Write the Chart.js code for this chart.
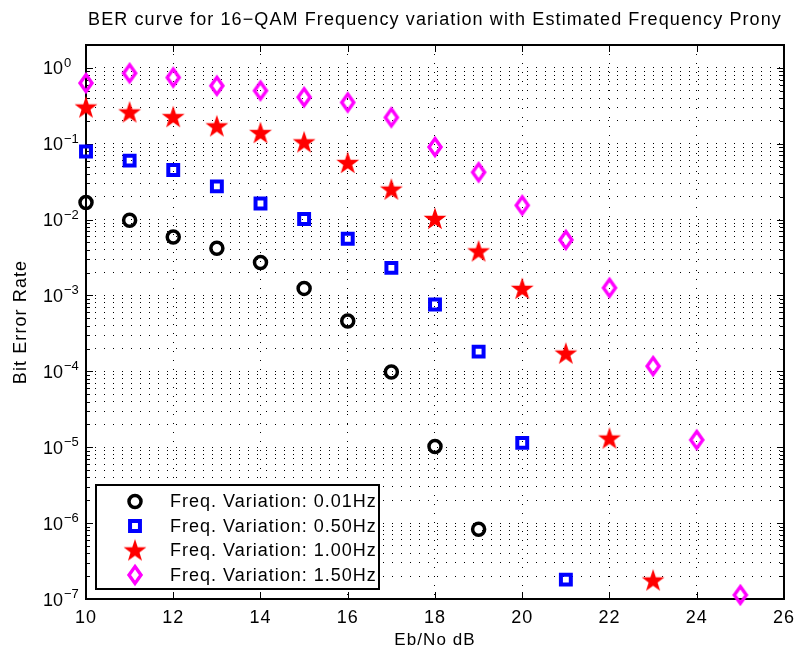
<!DOCTYPE html>
<html>
<head>
<meta charset="utf-8">
<title>BER 16-QAM Prony</title>
<script src="https://cdn.jsdelivr.net/npm/chart.js@4/dist/chart.umd.min.js"></script>
<style>
  html, body { margin: 0; padding: 0; background: #fff; }
  #wrap { width: 802px; height: 651px; }
</style>
</head>
<body>
<div id="wrap"><canvas id="grafico" width="802" height="651"></canvas></div>
<script>
    // Eb/No (dB) and measured BER for each frequency variation
    const ebNo = [10, 11, 12, 13, 14, 15, 16, 17, 18, 19, 20, 21, 22, 23, 24, 25];
    const ber001 = [0.0168, 0.0098, 0.0059, 0.0042, 0.00272, 0.00124, 0.00046, 9.8e-5, 1.02e-5, 8.3e-7];
    const ber050 = [0.079, 0.0598, 0.045, 0.0274, 0.0163, 0.0102, 0.0056, 0.00231, 0.00076, 0.000182, 1.14e-5, 1.8e-7];
    const ber100 = [0.30, 0.258, 0.224, 0.169, 0.138, 0.104, 0.0557, 0.0248, 0.0102, 0.0038, 0.00122, 0.000171, 1.3e-5, 1.75e-7];
    const ber150 = [0.63, 0.85, 0.745, 0.58, 0.50, 0.41, 0.35, 0.222, 0.0904, 0.042, 0.0154, 0.0054, 0.00126, 0.000117, 1.25e-5, 1.13e-7];

    const nombres = ['Freq. Variation: 0.01Hz', 'Freq. Variation: 0.50Hz', 'Freq. Variation: 1.00Hz', 'Freq. Variation: 1.50Hz'];
    const xTicks = [10, 12, 14, 16, 18, 20, 22, 24, 26];
    const yPotencias = [-7, -6, -5, -4, -3, -2, -1, 0];

    const FUENTE = '"Liberation Sans", Arial, Helvetica, sans-serif';

    function puntos(ber) {
      return ber.map((v, i) => ({ x: ebNo[i], y: v }));
    }

    // filled 5-point star
    function crearEstrella(color) {
      const c = document.createElement('canvas');
      c.width = 26; c.height = 26;
      const g = c.getContext('2d');
      g.fillStyle = color;
      g.beginPath();
      for (let i = 0; i < 10; i++) {
        const r = i % 2 === 0 ? 12 : 4.7;
        const a = -Math.PI / 2 + i * Math.PI / 5;
        const px = 13 + r * Math.cos(a), py = 13.5 + r * Math.sin(a);
        if (i === 0) g.moveTo(px, py); else g.lineTo(px, py);
      }
      g.closePath();
      g.fill();
      return c;
    }

    // hollow diamond, taller than wide
    function crearRombo(color) {
      const c = document.createElement('canvas');
      c.width = 20; c.height = 26;
      const g = c.getContext('2d');
      g.strokeStyle = color;
      g.lineWidth = 3.4;
      g.beginPath();
      g.moveTo(10, 13 - 8.4);
      g.lineTo(10 + 6, 13);
      g.lineTo(10, 13 + 8.4);
      g.lineTo(10 - 6, 13);
      g.closePath();
      g.stroke();
      return c;
    }

    const estrella = crearEstrella('#ff0000');
    const rombo = crearRombo('#ff00ff');

    const datasets = [
      { label: nombres[0], data: puntos(ber001), pointStyle: 'circle', pointRadius: 6, pointBorderWidth: 3.5,
        borderColor: '#000000', pointBorderColor: '#000000', pointBackgroundColor: 'rgba(0,0,0,0)' },
      { label: nombres[1], data: puntos(ber050), pointStyle: 'rect', pointRadius: 7, pointBorderWidth: 4,
        borderColor: '#0000ff', pointBorderColor: '#0000ff', pointBackgroundColor: 'rgba(0,0,0,0)' },
      { label: nombres[2], data: puntos(ber100), pointStyle: estrella, pointRadius: 12, pointBorderWidth: 0,
        borderColor: '#ff0000', pointBorderColor: '#ff0000', pointBackgroundColor: '#ff0000' },
      { label: nombres[3], data: puntos(ber150), pointStyle: rombo, pointRadius: 10, pointBorderWidth: 0,
        borderColor: '#ff00ff', pointBorderColor: '#ff00ff', pointBackgroundColor: 'rgba(0,0,0,0)' }
    ];
    datasets.forEach(d => { d.showLine = false; d.clip = false; d.pointHoverRadius = d.pointRadius; });

    function esPotencia(v) {
      const l = Math.log10(v);
      return Math.abs(l - Math.round(l)) < 1e-9;
    }

    /* ------------------ PLUGINS ------------------ */
    const espaciado = {
      id: 'espaciado',
      beforeDraw(chart) { chart.ctx.letterSpacing = '1.1px'; }
    };

    // box and inward tick marks
    const marco = {
      id: 'marco',
      beforeDatasetsDraw(chart) {
        const ctx = chart.ctx;
        const { left, right, top, bottom } = chart.chartArea;
        const sx = chart.scales.x, sy = chart.scales.y;
        ctx.save();
        ctx.strokeStyle = '#000';
        ctx.lineWidth = 1;
        ctx.beginPath();
        xTicks.forEach(v => {
          const px = Math.round(sx.getPixelForValue(v)) + 0.5;
          ctx.moveTo(px, bottom); ctx.lineTo(px, bottom - 7);
          ctx.moveTo(px, top); ctx.lineTo(px, top + 7);
        });
        sy.ticks.forEach(t => {
          const py = Math.round(sy.getPixelForValue(t.value)) + 0.5;
          const largo = esPotencia(t.value) ? 7 : 4;
          ctx.moveTo(left, py); ctx.lineTo(left + largo, py);
          ctx.moveTo(right, py); ctx.lineTo(right - largo, py);
        });
        ctx.stroke();
        ctx.lineWidth = 2;
        ctx.strokeRect(left, top, right - left, bottom - top);
        ctx.restore();
      }
    };

    // 10^n labels on the log axis
    const etiquetasY = {
      id: 'etiquetasY',
      afterDraw(chart) {
        const ctx = chart.ctx;
        const sy = chart.scales.y;
        ctx.save();
        ctx.fillStyle = '#000';
        ctx.letterSpacing = '0px';
        ctx.textBaseline = 'alphabetic';
        yPotencias.forEach(p => {
          const py = sy.getPixelForValue(Math.pow(10, p));
          ctx.font = '18px ' + FUENTE;
          ctx.textAlign = 'right';
          ctx.fillText('10', 63, py + 6.5);
          ctx.font = '13px ' + FUENTE;
          ctx.textAlign = 'left';
          ctx.fillText(p === 0 ? '0' : '\u2212' + (-p), 64, py - 1);
        });
        ctx.restore();
      }
    };

    // legend box in the lower left corner
    const leyenda = {
      id: 'leyenda',
      afterDraw(chart) {
        const ctx = chart.ctx;
        ctx.save();
        ctx.fillStyle = '#fff';
        ctx.fillRect(96, 485, 283, 104);
        ctx.strokeStyle = '#000';
        ctx.lineWidth = 2;
        ctx.strokeRect(96, 485, 283, 104);
        chart.data.datasets.forEach((d, i) => {
          const cy = 501.5 + i * 24.5;
          ctx.strokeStyle = d.pointBorderColor;
          ctx.fillStyle = d.pointBackgroundColor;
          ctx.lineWidth = d.pointBorderWidth;
          Chart.helpers.drawPoint(ctx, {
            pointStyle: d.pointStyle, radius: d.pointRadius, borderWidth: d.pointBorderWidth, rotation: 0
          }, 135, cy);
          ctx.fillStyle = '#000';
          ctx.font = '18px ' + FUENTE;
          ctx.letterSpacing = '1px';
          ctx.textAlign = 'left';
          ctx.textBaseline = 'middle';
          ctx.fillText(d.label, 170, cy + 1);
        });
        ctx.restore();
      }
    };

    /* ------------------ GRAFICO ------------------ */
    const ejesFuente = { family: FUENTE, size: 18, weight: 'normal' };

    const grafico = new Chart(document.getElementById('grafico').getContext('2d'), {
      type: 'scatter',
      data: { datasets: datasets },
      options: {
        responsive: false,
        animation: false,
        devicePixelRatio: 1,
        events: [],
        layout: { padding: { left: 0, right: 13, top: 0, bottom: 0 } },
        plugins: {
          legend: { display: false },
          tooltip: { enabled: false },
          title: {
            display: true,
            text: 'BER curve for 16\u2212QAM Frequency variation with Estimated Frequency Prony',
            fullSize: false,
            color: '#000',
            font: { family: FUENTE, size: 18, weight: 'normal' },
            padding: { top: 9, bottom: 14.4 }
          }
        },
        scales: {
          x: {
            type: 'linear',
            min: 10, max: 26,
            afterBuildTicks: s => { s.ticks = xTicks.map(v => ({ value: v })); },
            afterFit: s => { s.height = 52; },
            grid: { color: '#000', lineWidth: 1, drawTicks: false },
            border: { display: false, dash: [1, 8] },
            ticks: { color: '#000', font: ejesFuente, padding: 8, maxRotation: 0, autoSkip: false },
            title: { display: true, text: 'Eb/No dB', color: '#000', font: { family: FUENTE, size: 17, weight: 'normal' }, padding: { top: 0, bottom: 0 } }
          },
          y: {
            type: 'logarithmic',
            min: 1e-7, max: 2,
            afterBuildTicks: s => {
              const t = [];
              yPotencias.forEach(p => {
                for (let m = 1; m <= 9; m++) {
                  const v = m * Math.pow(10, p);
                  if (v <= 2) t.push({ value: v });
                }
              });
              s.ticks = t;
            },
            afterFit: s => { s.width = 86; },
            grid: { color: '#000', lineWidth: 1, drawTicks: false },
            border: { display: false, dash: [1, 8] },
            ticks: { display: false },
            title: { display: true, text: 'Bit Error Rate', color: '#000', font: { family: FUENTE, size: 18, weight: 'normal' }, padding: { top: 10.5, bottom: 0 } }
          }
        }
      },
      plugins: [espaciado, marco, etiquetasY, leyenda]
    });
</script>
</body>
</html>
